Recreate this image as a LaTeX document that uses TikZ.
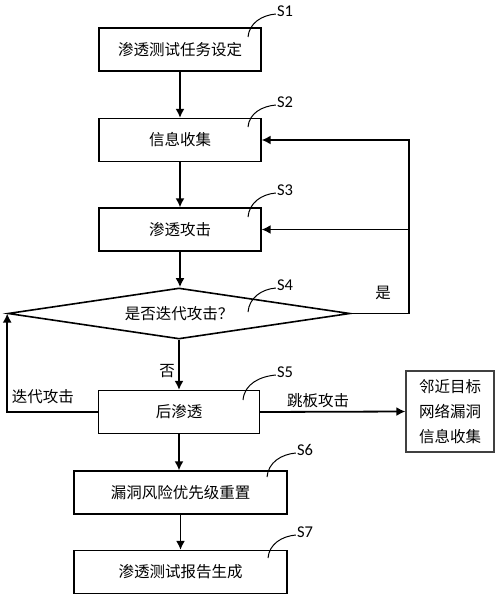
\documentclass[tikz,border=0pt]{standalone}
\usepackage{fontspec}
\setmainfont{Carlito}
\newfontfamily\cjk{Noto Sans CJK SC}
\usepackage{tikz}
\usetikzlibrary{shapes.geometric}
\usetikzlibrary{arrows.meta}
\tikzset{stepbox/.style={rectangle, draw, line width=1.2pt, minimum height=43pt, inner sep=0pt, font=\cjk\fontsize{15.5}{25}\selectfont}}
\tikzset{decide/.style={diamond, draw, line width=1.6pt, aspect=6.7, minimum width=342pt, minimum height=51pt, inner sep=0pt, font=\cjk\fontsize{15.5}{25}\selectfont}}
\tikzset{flow/.style={-{Latex[length=9pt,width=9pt]}, line width=1.8pt}}
\tikzset{steplab/.style={font=\fontsize{16.5}{16.5}\selectfont, inner sep=1pt}}
\tikzset{cjklab/.style={font=\cjk\fontsize{15.5}{25}\selectfont}}

\begin{document}
\begin{tikzpicture}[x=1pt,y=-1pt]
  \useasboundingbox (0,0) rectangle (500,602);
  \foreach \x/\y/\w/\name/\lab in {
    180/49.5/162/渗透测试任务设定/s1,
    180/140/162/信息收集/s2,
    180/229.5/162/渗透攻击/s3,
    179/412/161/后渗透/s5,
    180.5/492.5/213/漏洞风险优先级重置/s6,
    180.5/572/213/渗透测试报告生成/s7%
  } {
    \node[stepbox, minimum width=\w pt] (\lab) at (\x, \y) {\name};
  }
  \node[decide] (s4) at (179, 313.5) {是否迭代攻击？};
  \node[stepbox, draw=black!75, minimum width=88pt, minimum height=81pt, align=center] (near) at (450, 411.5) {邻近目标\\网络漏洞\\信息收集};

  \foreach \a/\b in {s1/s2, s2/s3, s3/s4, s5/s6, s6/s7} {
    \draw[flow] (\a.south) -- (\a.south |- \b.north);
  }
  \draw[flow] (s4.south) -- node[cjklab, left, pos=.63] (no) {否} (s4.south |- s5.north);

  % yes: back to S2 and S3
  \coordinate (back) at (409, 140);
  \draw[flow] (s4.east) -- (s4.east -| back) -- (back) -- (s2.east);
  \draw[flow] (s4.east -| back) |- (s3.east);
  \node[cjklab] (yes) at (383, 293) {是};

  % iterate
  \draw[flow] (s5.west) -- (s5.west -| s4.west) -- (s4.west);
  \node[cjklab] (iter) at (43, 397) {迭代攻击};

  \draw[flow] (s5.east) -- node[cjklab, above, pos=.4] (jump) {跳板攻击} (near.west);

  \foreach \n/\x/\y/\lx/\ly in {
    1/248/37/285/11,
    2/248/127/285/102,
    3/248/217/285/190,
    4/248/312/285/285,
    5/243/400/285/372,
    6/267/477/305/450,
    7/268/558/305/532%
  } {
    \coordinate (c\n) at (\x, \y);
    \node[steplab] (l\n) at (\lx, \ly) {S\n};
    \draw[line width=1pt] (c\n) to[out=85, in=185] ([yshift=-3pt]l\n.west);
  }
\end{tikzpicture}
\end{document}
